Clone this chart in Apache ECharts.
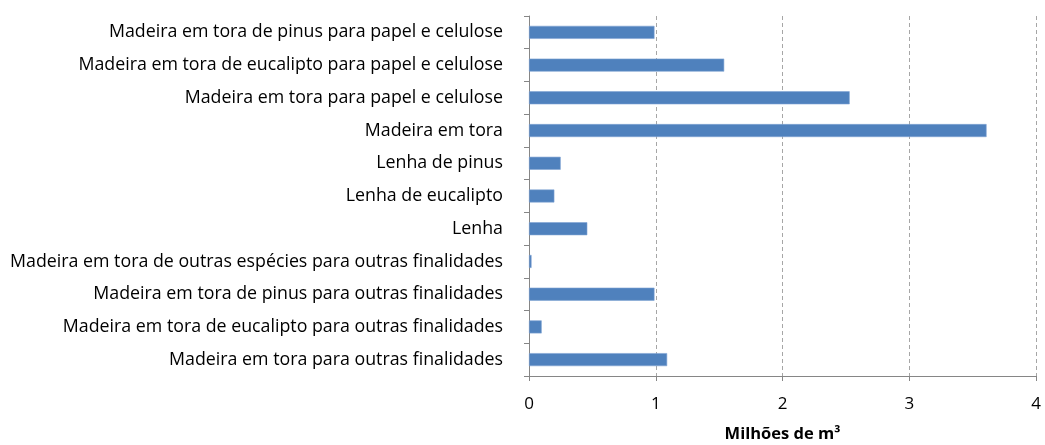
<!DOCTYPE html>
<html><head><meta charset="utf-8">
<script src="https://cdn.jsdelivr.net/npm/echarts@6/dist/echarts.min.js"></script>
<style>html,body{margin:0;padding:0;background:#fff}#c{width:1045px;height:445px}</style>
</head><body><div id="c"></div>
<script>
const categories = [
  "Madeira em tora de pinus para papel e celulose",
  "Madeira em tora de eucalipto para papel e celulose",
  "Madeira em tora para papel e celulose",
  "Madeira em tora",
  "Lenha de pinus",
  "Lenha de eucalipto",
  "Lenha",
  "Madeira em tora de outras espécies para outras finalidades",
  "Madeira em tora de pinus para outras finalidades",
  "Madeira em tora de eucalipto para outras finalidades",
  "Madeira em tora para outras finalidades"
];
const values = [0.99, 1.54, 2.53, 3.61, 0.25, 0.20, 0.46, 0.02, 0.99, 0.10, 1.09];
const axisName = "Milhões de m³";

const chart = echarts.init(document.getElementById('c'), null, {renderer: 'canvas'});
chart.setOption({
  animation: false,
  textStyle: {fontFamily: 'Open Sans'},
  grid: {left: 529, right: 9, top: 16, bottom: 69, containLabel: false, outerBoundsMode: 'none'},
  xAxis: {
    type: 'value', min: 0, max: 4, interval: 1,
    name: axisName, nameLocation: 'middle', nameGap: 50,
    nameTextStyle: {fontFamily: 'Open Sans', fontWeight: 'bold', fontSize: 16.5, color: '#000'},
    axisLine: {show: true, lineStyle: {color: '#868686'}},
    axisTick: {show: true, length: 5, lineStyle: {color: '#868686'}},
    axisLabel: {fontSize: 17, color: '#000', margin: 20, fontFamily: 'Open Sans'},
    splitLine: {show: true, lineStyle: {color: '#a6a6a6', type: [4, 3]}}
  },
  yAxis: {
    type: 'category', data: categories, inverse: true,
    axisLine: {show: true, lineStyle: {color: '#868686'}},
    axisTick: {show: true, length: 5, alignWithLabel: false, lineStyle: {color: '#868686'}},
    axisLabel: {fontSize: 17.8, color: '#000', margin: 26, fontFamily: 'Open Sans'}
  },
  series: [{
    type: 'bar', data: values, barWidth: 13,
    itemStyle: {color: '#4f81bd', borderColor: '#7fa3d3', borderWidth: 0.6}
  }]
});
</script></body></html>
